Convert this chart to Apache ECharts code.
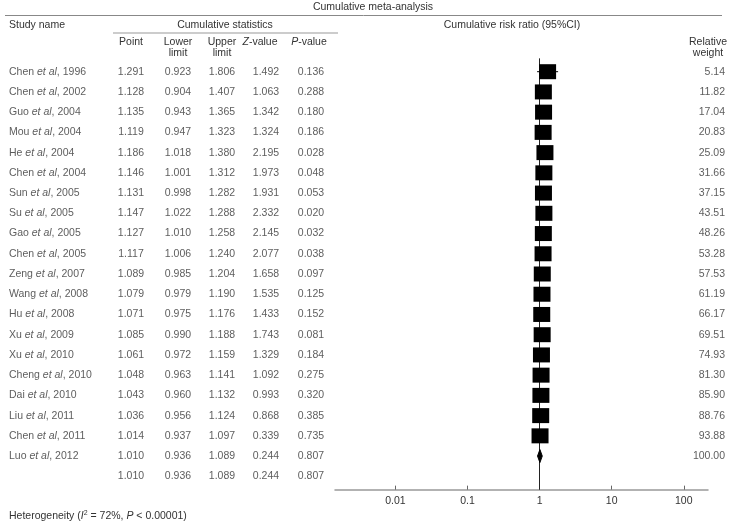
<!DOCTYPE html>
<html><head><meta charset="utf-8">
<script src="https://cdn.jsdelivr.net/npm/echarts@6/dist/echarts.min.js"></script>
<style>html,body{margin:0;padding:0;background:#fff}#c{width:745px;height:527px}</style>
</head><body><div id="c"></div>
<script>
// ---- data ----
const authors = ['Chen','Chen','Guo','Mou','He','Chen','Sun','Su','Gao','Chen','Zeng','Wang','Hu','Xu','Xu','Cheng','Dai','Liu','Chen','Luo'];
const years = [1996,2002,2004,2004,2004,2004,2005,2005,2005,2005,2007,2008,2008,2009,2010,2010,2010,2011,2011,2012];
const pointEst = [1.291,1.128,1.135,1.119,1.186,1.146,1.131,1.147,1.127,1.117,1.089,1.079,1.071,1.085,1.061,1.048,1.043,1.036,1.014,1.010];
const lowerLim = [0.923,0.904,0.943,0.947,1.018,1.001,0.998,1.022,1.010,1.006,0.985,0.979,0.975,0.990,0.972,0.963,0.960,0.956,0.937,0.936];
const upperLim = [1.806,1.407,1.365,1.323,1.380,1.312,1.282,1.288,1.258,1.240,1.204,1.190,1.176,1.188,1.159,1.141,1.132,1.124,1.097,1.089];
const zValues = [1.492,1.063,1.342,1.324,2.195,1.973,1.931,2.332,2.145,2.077,1.658,1.535,1.433,1.743,1.329,1.092,0.993,0.868,0.339,0.244];
const pValues = [0.136,0.288,0.180,0.186,0.028,0.048,0.053,0.020,0.032,0.038,0.097,0.125,0.152,0.081,0.184,0.275,0.320,0.385,0.735,0.807];
const relWeight = [5.14,11.82,17.04,20.83,25.09,31.66,37.15,43.51,48.26,53.28,57.53,61.19,66.17,69.51,74.93,81.30,85.90,88.76,93.88,100.00];
const summaryRow = [1.010,0.936,1.089,0.244,0.807]; // point, lower, upper, Z, P
const tickValues = [0.01,0.1,1,10,100];
const tickLabels = ['0.01','0.1','1','10','100'];

// ---- layout ----
const FONT = 'Liberation Sans', FS = 10.5, TXT = '#333';
const ROW0 = 71.7, ROWH = 20.23;
const yMin = -0.66, yMax = 20.66;
const gridTop = ROW0 + yMin * ROWH;
const gridH = (yMax - yMin) * ROWH;
const X1 = 539.6, DEC = 72.08, GL = 335, GR = 708;
const xMin = (GL - X1) / DEC, xMax = (GR - X1) / DEC;
const nStudies = authors.length;
const lg = v => Math.log10(v);

const baseText = {fontFamily: FONT, fontSize: FS, color: TXT};
function colSeries(x, texts, align, formatter, rich) {
  return {
    type: 'scatter', xAxisIndex: 1, yAxisIndex: 1, silent: true,
    symbolSize: 1, itemStyle: {color: 'rgba(0,0,0,0)'},
    data: texts.map((t, i) => [x, i, t]),
    label: Object.assign({show: true, position: 'inside', align: align, verticalAlign: 'middle',
      formatter: formatter || (p => p.value[2]), rich: rich || {}}, baseText),
    emphasis: {disabled: true}
  };
}
const f3 = v => v.toFixed(3);
const withSummary = (arr, k) => arr.map(f3).concat([f3(summaryRow[k])]);

const nameRich = {n: Object.assign({}, baseText), i: Object.assign({fontStyle: 'italic'}, baseText)};

const series = [
  // whiskers + line of no effect
  {
    type: 'custom', xAxisIndex: 0, yAxisIndex: 0, silent: true,
    data: lowerLim.slice(0, nStudies - 1).map((lo, i) => [lg(lo), lg(upperLim[i]), i]),
    renderItem: (params, api) => {
      const a = api.coord([api.value(0), api.value(2)]);
      const b = api.coord([api.value(1), api.value(2)]);
      return {type: 'line', shape: {x1: a[0], y1: a[1], x2: b[0], y2: b[1]}, style: {stroke: '#000', lineWidth: 1}};
    },
    markLine: {silent: true, symbol: 'none', animation: false, label: {show: false}, z: 1,
      lineStyle: {color: '#222', width: 1, type: 'solid'}, data: [{xAxis: 0}]},
    z: 2
  },
  // boxes
  {
    type: 'scatter', xAxisIndex: 0, yAxisIndex: 0, silent: true,
    symbol: 'rect', symbolSize: [17, 15], itemStyle: {color: '#000', opacity: 1},
    emphasis: {disabled: true},
    data: pointEst.slice(0, nStudies - 1).map((p, i) => [lg(p), i]), z: 3
  },
  // diamond for final cumulative estimate
  {
    type: 'custom', xAxisIndex: 0, yAxisIndex: 0, silent: true,
    data: [[lg(pointEst[nStudies - 1]), lg(lowerLim[nStudies - 1]), lg(upperLim[nStudies - 1]), nStudies - 1]],
    renderItem: (params, api) => {
      const r = api.value(3);
      const c = api.coord([api.value(0), r]);
      const l = api.coord([api.value(1), r]);
      const h = api.coord([api.value(2), r]);
      const d = 6.5;
      return {type: 'polygon', shape: {points: [[l[0], c[1]], [c[0], c[1] - d], [h[0], c[1]], [c[0], c[1] + d]]},
        style: {fill: '#000', stroke: '#000', lineWidth: 1}};
    }, z: 3
  },
  // table columns
  colSeries(9, authors, 'left', p => {
    const i = p.dataIndex;
    return `{n|${authors[i]} }{i|et al}{n|, ${years[i]}}`;
  }, nameRich),
  colSeries(131, withSummary(pointEst, 0), 'center'),
  colSeries(178, withSummary(lowerLim, 1), 'center'),
  colSeries(222, withSummary(upperLim, 2), 'center'),
  colSeries(266, withSummary(zValues, 3), 'center'),
  colSeries(311, withSummary(pValues, 4), 'center'),
  colSeries(725, relWeight.map(v => v.toFixed(2)), 'right')
];

function txt(text, x, y, align, extra) {
  return {type: 'text', x: x, y: y, silent: true,
    style: Object.assign({text: text, textAlign: align || 'center', textVerticalAlign: 'middle',
      fontFamily: FONT, fontSize: FS, fill: TXT, lineHeight: 11.6}, extra || {})};
}
const richBase = {n: {fontFamily: FONT, fontSize: FS, fill: TXT}, i: {fontFamily: FONT, fontSize: FS, fontStyle: 'italic', fill: TXT},
  s: {fontFamily: FONT, fontSize: 7, fill: TXT, padding: [0, 0, 6, 0]}};

const graphic = [
  txt('Cumulative meta-analysis', 373, 7),
  {type: 'line', silent: true, shape: {x1: 5, y1: 15.5, x2: 722, y2: 15.5}, style: {stroke: '#888', lineWidth: 1}},
  txt('Study name', 9, 25, 'left'),
  txt('Cumulative statistics', 225, 25),
  {type: 'line', silent: true, shape: {x1: 113, y1: 33, x2: 338, y2: 33}, style: {stroke: '#999', lineWidth: 1.2}},
  txt('Cumulative risk ratio (95%CI)', 512, 25),
  txt('Point', 131, 41.7),
  txt('Lower\nlimit', 178, 47.5),
  txt('Upper\nlimit', 222, 47.5),
  txt('{i|Z}{n|-value}', 260, 41.7, 'center', {rich: richBase}),
  txt('{i|P}{n|-value}', 309, 41.7, 'center', {rich: richBase}),
  txt('Relative\nweight', 708, 47.5),
  txt('{n|Heterogeneity (}{i|I}{s|2}{n| = 72%, }{i|P}{n| < 0.00001)}', 9, 516, 'left', {rich: richBase})
];

const chart = echarts.init(document.getElementById('c'), null, {renderer: 'canvas'});
chart.setOption({
  animation: false,
  backgroundColor: '#fff',
  grid: [
    {left: GL, top: gridTop, width: GR - GL, height: gridH, containLabel: false},
    {left: 0, top: gridTop, width: 745, height: gridH, containLabel: false}
  ],
  xAxis: [
    {type: 'value', gridIndex: 0, min: xMin, max: xMax, position: 'bottom',
      splitLine: {show: false},
      axisLine: {show: true, onZero: false, lineStyle: {color: '#999', width: 1.5}},
      axisTick: {show: true, inside: true, length: 4, customValues: tickValues.map(lg), lineStyle: {color: '#666', width: 1}},
      axisLabel: {show: true, customValues: tickValues.map(lg), margin: 6, fontFamily: FONT, fontSize: FS, color: TXT,
        formatter: v => { let k = 0; tickValues.forEach((t, j) => { if (Math.abs(lg(t) - v) < Math.abs(lg(tickValues[k]) - v)) k = j; }); return tickLabels[k]; }}
    },
    {type: 'value', gridIndex: 1, min: 0, max: 745, show: false}
  ],
  yAxis: [
    {type: 'value', gridIndex: 0, inverse: true, min: yMin, max: yMax, show: false},
    {type: 'value', gridIndex: 1, inverse: true, min: yMin, max: yMax, show: false}
  ],
  series: series,
  graphic: graphic
});
</script></body></html>
